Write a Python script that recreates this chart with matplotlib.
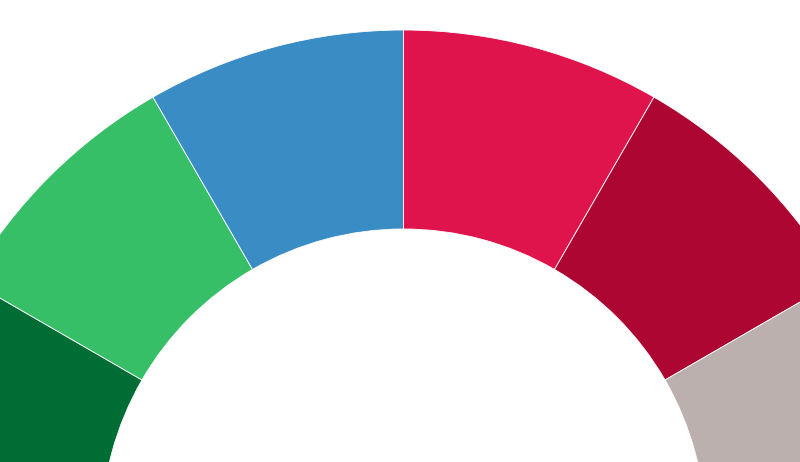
import matplotlib
matplotlib.use("Agg")
import matplotlib.pyplot as plt

# six equal groups laid out on a half donut, left to right
groups = ["Group A", "Group B", "Group C", "Group D", "Group E", "Group F"]
values = [1, 1, 1, 1, 1, 1]
colors = ["#006d35", "#36bf67", "#3a8cc4", "#e0144c", "#ae0633", "#bcb0ae"]

fig = plt.figure(figsize=(8, 4.62), dpi=100)
ax = fig.add_axes([0, 0, 1, 1])

# hidden lower half so the visible ring covers 180 degrees
total = sum(values)
wedges, _ = ax.pie(
    values + [total],
    colors=colors + ["none"],
    startangle=180,
    counterclock=False,
    radius=501,
    center=(403.5, -69),
    wedgeprops=dict(width=199, edgecolor="white", linewidth=0.6),
)
wedges[-1].set_edgecolor("none")

ax.set_xlim(0, 800)
ax.set_ylim(0, 462)
ax.set_aspect("equal")
ax.axis("off")

fig.savefig("out.png", dpi=100)
